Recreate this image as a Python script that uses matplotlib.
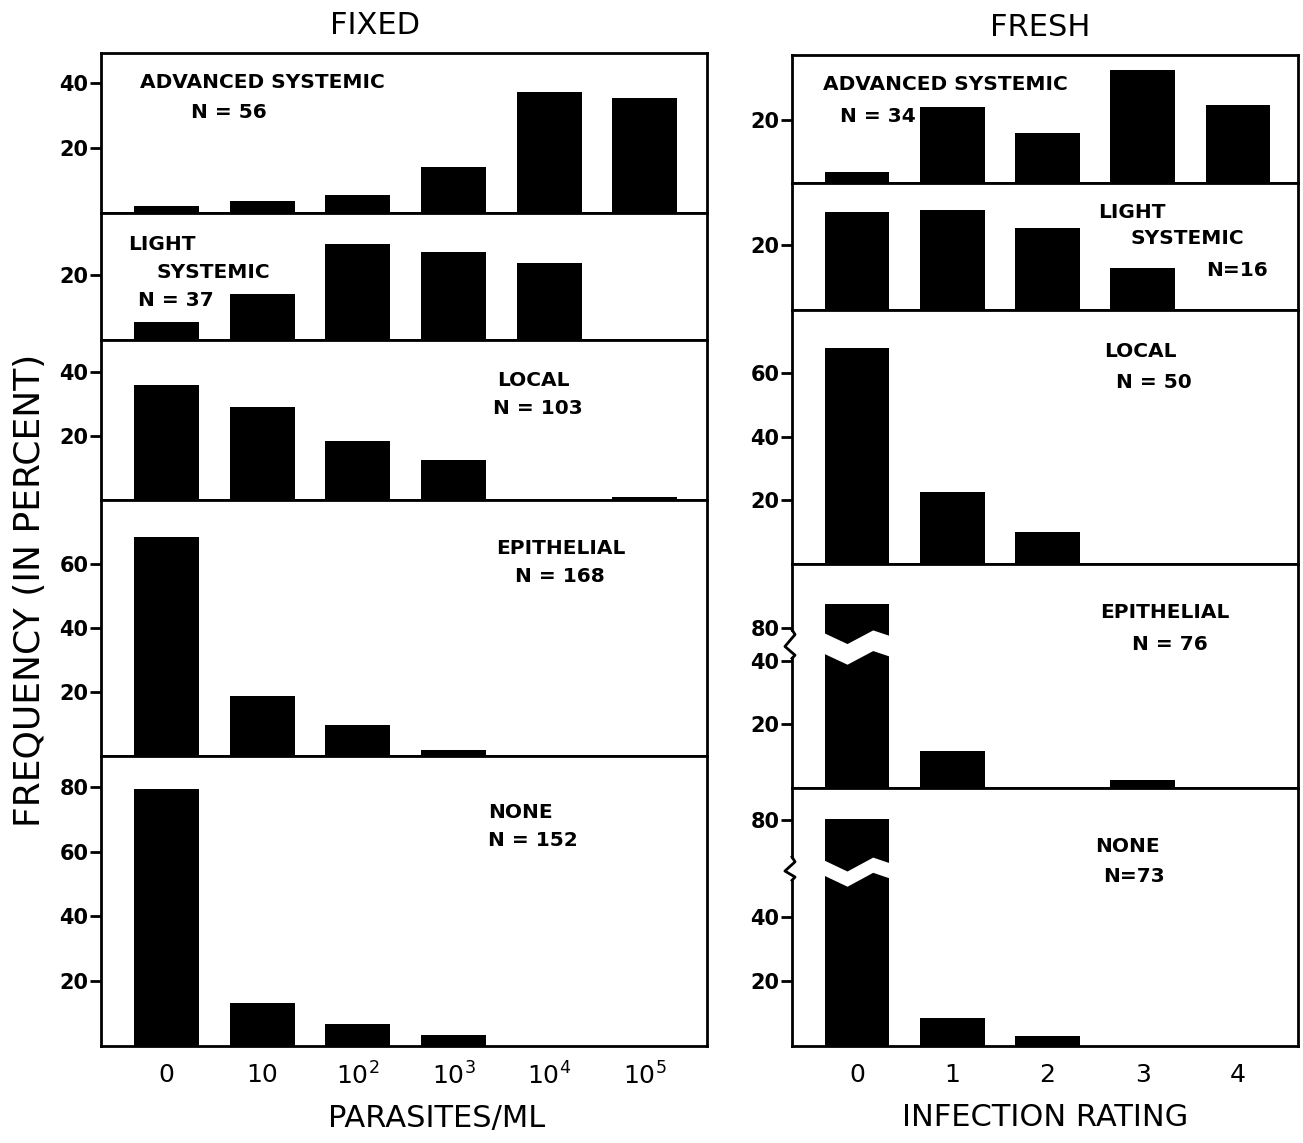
import numpy as np
import matplotlib
matplotlib.use('Agg')
import matplotlib.pyplot as plt

plt.rcParams['font.family'] = 'DejaVu Sans'
plt.rcParams['mathtext.default'] = 'regular'

# tick labels
fixed_ticks = ['0', '10', '$10^2$', '$10^3$', '$10^4$', '$10^5$']
fresh_ticks = ['0', '1', '2', '3', '4']

# frequencies (percent), FIXED column
fixed_advanced = [2.2, 3.7, 5.5, 14.2, 37.2, 35.4]
fixed_light = [5.4, 14.3, 29.7, 27.0, 23.8, 0]
fixed_local = [35.9, 29.1, 18.4, 12.6, 0, 1.0]
fixed_epithelial = [68.4, 18.6, 9.6, 1.9, 0, 0]
fixed_none = [79.4, 13.4, 6.8, 3.5, 0, 0]

# FRESH column
fresh_advanced = [3.5, 24.2, 15.8, 36.0, 24.6]
fresh_light = [30.3, 30.8, 25.2, 12.9, 0]
fresh_local = [67.8, 22.5, 10.0, 0, 0]
fresh_epithelial = [87.5, 11.7, 0, 2.5, 0]
fresh_none = [80.3, 8.7, 3.0, 0, 0]

W, H = 1303, 1143
fig = plt.figure(figsize=(W / 100, H / 100), dpi=100)


def rect(x0, y0, x1, y1):
    return [x0 / W, 1 - y1 / H, (x1 - x0) / W, (y1 - y0) / H]


def broken(b1, b2, k):
    # squeeze the values between b1 and b2 so the axis can be shown broken
    m = b1 + (b2 - b1) * k

    def fwd(v):
        v = np.asarray(v, float)
        return np.where(v <= b1, v, np.where(v <= b2, b1 + (v - b1) * k, m + (v - b2)))

    def inv(t):
        t = np.asarray(t, float)
        return np.where(t <= b1, t, np.where(t <= m, b1 + (t - b1) / k, b2 + (t - m)))

    return fwd, inv


def panel(box, vals, top, yticks, xlim, scale=None):
    ax = fig.add_axes(rect(*box))
    x = np.arange(len(vals))
    if scale is not None:
        ax.set_yscale('function', functions=scale)
    ax.bar(x, vals, width=0.68, color='black')
    ax.set_xlim(xlim)
    ax.set_ylim(0, top)
    ax.set_yticks(yticks)
    ax.set_yticklabels([str(t) for t in yticks], fontweight='bold')
    ax.set_xticks([])
    ax.tick_params(axis='y', direction='out', length=8, width=2, labelsize=15, pad=1)
    for s in ax.spines.values():
        s.set_linewidth(2)
    return ax


def zigzag(ax, inv, top_t, hi, lo):
    # white cut across the first bar plus a jag on the spine
    prof = np.array([0, -3.5, 0.8, -1.0])
    xs = np.array([-0.35, -0.10, 0.17, 0.35])
    up = inv(hi + prof)
    dn = inv(lo + prof)
    ax.fill(np.concatenate([xs, xs[::-1]]), np.concatenate([up, dn[::-1]]),
            color='white', zorder=3, lw=0)
    ax.spines['left'].set_visible(False)
    f = lambda t: t / top_t
    tr = ax.transAxes
    ax.plot([0, 0], [0, f(lo - 1.5)], color='black', lw=2, transform=tr, clip_on=False)
    ax.plot([0, 0], [f(hi + 1.0), 1], color='black', lw=2, transform=tr, clip_on=False)
    ax.plot([0, 0.006, -0.014, 0.006, 0],
            [f(hi + 1.0), f(hi - 0.5), f((hi + lo) / 2 - 1.0), f(lo - 0.5), f(lo - 1.5)],
            color='black', lw=2, transform=tr, clip_on=False)


# FIXED column
lx = (-0.685, 5.65)
a1 = panel((101, 53, 707, 213), fixed_advanced, 49.2, [20, 40], lx)
a2 = panel((101, 213, 707, 340), fixed_light, 39.1, [20], lx)
a3 = panel((101, 340, 707, 500), fixed_local, 50, [20, 40], lx)
a4 = panel((101, 500, 707, 756), fixed_epithelial, 80, [20, 40, 60], lx)
a5 = panel((101, 756, 707, 1046), fixed_none, 89.5, [20, 40, 60, 80], lx)
a5.set_xticks(range(len(fixed_ticks)))
a5.set_xticklabels(fixed_ticks)
a5.tick_params(axis='x', length=0, labelsize=18, pad=12)

# FRESH column
rx = (-0.683, 4.63)
b1 = panel((792, 55, 1298, 183), fresh_advanced, 40.6, [20], rx)
b2 = panel((792, 183, 1298, 310), fresh_light, 39.1, [20], rx)
b3 = panel((792, 310, 1298, 564), fresh_local, 79.8, [20, 40, 60], rx)

fe, ie = broken(44, 76, 0.075)
b4 = panel((792, 564, 1298, 788), fresh_epithelial, float(ie(70.5)), [20, 40, 80], rx, (fe, ie))
zigzag(b4, ie, 70.5, 48.8, 42.3)

fn, inn = broken(50, 60.3, 0.005)
b5 = panel((792, 788, 1298, 1046), fresh_none, float(inn(79.7)), [20, 40, 80], rx, (fn, inn))
zigzag(b5, inn, 79.7, 57.4, 52.7)
b5.set_xticks(range(len(fresh_ticks)))
b5.set_xticklabels(fresh_ticks)
b5.tick_params(axis='x', length=0, labelsize=18, pad=12)

# panel captions (text, x px, y px, alignment)
captions = [
    ('ADVANCED SYSTEMIC', 140, 83, 'left'), ('N = 56', 191, 112, 'left'),
    ('LIGHT', 128, 245, 'left'), ('SYSTEMIC', 157, 272, 'left'), ('N = 37', 138, 300, 'left'),
    ('LOCAL', 533, 380, 'center'), ('N = 103', 538, 408, 'center'),
    ('EPITHELIAL', 561, 549, 'center'), ('N = 168', 560, 576, 'center'),
    ('NONE', 488, 812, 'left'), ('N = 152', 488, 840, 'left'),
    ('ADVANCED SYSTEMIC', 823, 85, 'left'), ('N = 34', 840, 116, 'left'),
    ('LIGHT', 1098, 212, 'left'), ('SYSTEMIC', 1131, 238, 'left'), ('N=16', 1206, 270, 'left'),
    ('LOCAL', 1140, 352, 'center'), ('N = 50', 1154, 383, 'center'),
    ('EPITHELIAL', 1165, 613, 'center'), ('N = 76', 1170, 644, 'center'),
    ('NONE', 1127, 847, 'center'), ('N=73', 1134, 877, 'center'),
]
for s, x, y, ha in captions:
    fig.text(x / W, 1 - y / H, s, ha=ha, va='center', fontsize=14.5, fontweight='bold')

fig.text(375 / W, 1 - 25 / H, 'FIXED', ha='center', va='center', fontsize=22)
fig.text(1040 / W, 1 - 27 / H, 'FRESH', ha='center', va='center', fontsize=22)
fig.text(437 / W, 1 - 1118 / H, 'PARASITES/ML', ha='center', va='center', fontsize=22)
fig.text(1045 / W, 1 - 1118 / H, 'INFECTION RATING', ha='center', va='center', fontsize=22)
fig.text(30 / W, 1 - 590 / H, 'FREQUENCY (IN PERCENT)', ha='center', va='center',
         rotation=90, fontsize=26)

fig.savefig('out.png', dpi=100)
